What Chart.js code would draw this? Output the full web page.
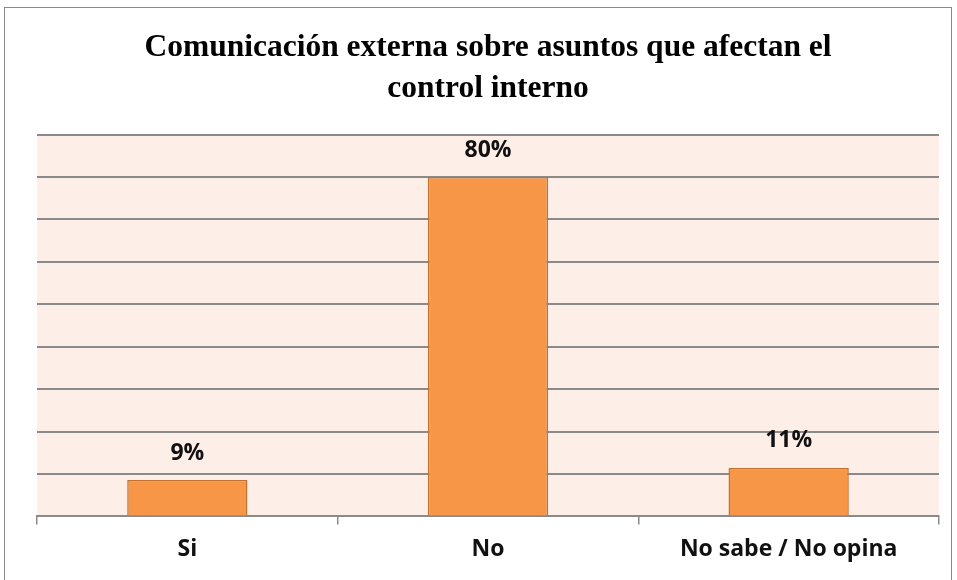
<!DOCTYPE html>
<html>
<head>
<meta charset="utf-8">
<script src="https://cdn.jsdelivr.net/npm/chart.js@4"></script>
<style>
  html, body { margin: 0; padding: 0; background: #fff; }
  #wrap { width: 957px; height: 580px; position: relative; }
</style>
</head>
<body>
<div id="wrap"><canvas id="chart"></canvas></div>
<script>
const titleLines = ['Comunicación externa sobre asuntos que afectan el', 'control interno'];
const categories = ['Si', 'No', 'No sabe / No opina'];
const values     = [8.57, 80, 11.43];
const valueLabels = ['9%', '80%', '11%'];
const yMax  = 90;
const yStep = 10;

const plotBackground = {
    id: 'plotBackground',
    beforeDraw(chart) {
        const { ctx, chartArea: a } = chart;
        ctx.save();
        ctx.fillStyle = '#fdeee8';
        ctx.fillRect(a.left, a.top, a.right - a.left, a.bottom - a.top);
        ctx.strokeStyle = '#8a8a8a';
        ctx.lineWidth = 1;
        ctx.strokeRect(4.5, 7.5, 947, 600);
        ctx.restore();
    },
};

const valueLabelPlugin = {
    id: 'valueLabels',
    afterDatasetsDraw(chart) {
        const { ctx } = chart;
        const meta = chart.getDatasetMeta(0);
        ctx.save();
        ctx.font = 'bold 23px "Open Sans"';
        ctx.fillStyle = '#111';
        ctx.textAlign = 'center';
        ctx.textBaseline = 'middle';
        meta.data.forEach((bar, i) => {
            ctx.fillText(valueLabels[i], bar.x, bar.y - 27);
        });
        ctx.restore();
    },
};

new Chart(document.getElementById('chart'), {
    type: 'bar',
    data: {
        labels: categories,
        datasets: [{
            data: values,
            backgroundColor: '#f79646',
            borderColor: '#c0712f',
            borderWidth: 1.5,
            barPercentage: 0.4,
            categoryPercentage: 1,
        }],
    },
    options: {
        responsive: true,
        maintainAspectRatio: false,
        animation: false,
        layout: { padding: { left: 37, right: 18, top: 0, bottom: 6 } },
        plugins: {
            legend: { display: false },
            tooltip: { enabled: false },
            title: {
                display: true,
                text: titleLines,
                color: '#000',
                font: { family: '"Liberation Serif", "Times New Roman", serif', size: 31.5, weight: 'bold', lineHeight: 1.28 },
                padding: { top: 28, bottom: 26 },
            },
        },
        scales: {
            x: {
                grid: { display: true, drawOnChartArea: false, drawTicks: true, tickLength: 8, color: '#8a8a8a', lineWidth: 1.5 },
                border: { color: '#8a8a8a', width: 2 },
                ticks: { color: '#111', padding: 11, font: { family: '"Open Sans"', size: 23, weight: 'bold' } },
            },
            y: {
                min: 0,
                max: yMax,
                ticks: { display: false, stepSize: yStep },
                grid: { color: '#8a8a8a', lineWidth: 2, drawTicks: false },
                border: { display: false },
            },
        },
    },
    plugins: [plotBackground, valueLabelPlugin],
});
</script>
</body>
</html>
